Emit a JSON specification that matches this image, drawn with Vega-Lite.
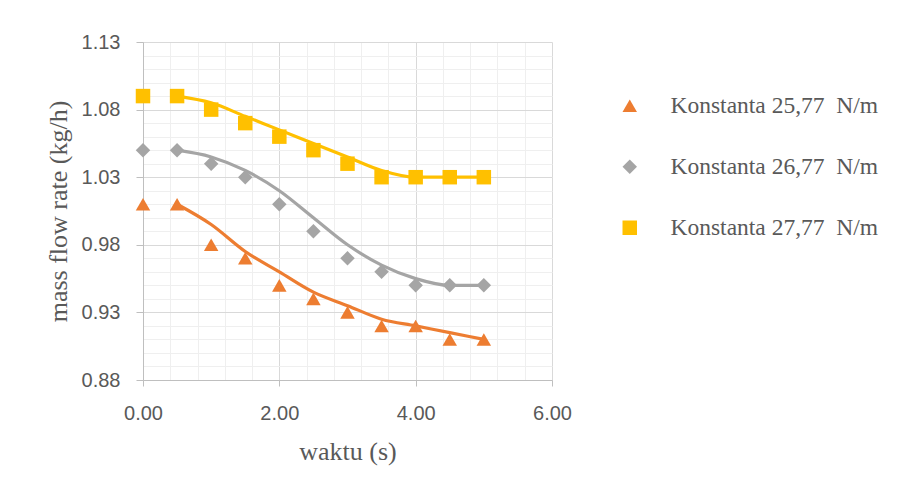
{
  "$schema": "https://vega.github.io/schema/vega-lite/v6.json",
  "width": 409,
  "height": 338,
  "autosize": "none",
  "padding": {"left": 143, "top": 42, "right": 369, "bottom": 112},
  "background": "white",
  "config": {
    "view": {"stroke": null},
    "axis": {
      "labelFont": "Liberation Sans",
      "labelFontSize": 20,
      "labelColor": "#595959",
      "labelFlush": false,
      "titleFont": "Liberation Serif",
      "titleFontSize": 26,
      "titleFontWeight": "normal",
      "titleColor": "#595959"
    },
    "legend": {
      "orient": "none",
      "legendX": 475,
      "legendY": 52,
      "labelFont": "Liberation Serif",
      "labelFontSize": 23.5,
      "labelColor": "#595959",
      "labelOffset": 29,
      "labelLimit": 400,
      "rowPadding": 36,
      "symbolSize": 210,
      "symbolStrokeWidth": 0
    }
  },
  "datasets": {
    "pts": [
      {"t": 0.0, "v": 1.01, "seri": "Konstanta 25,77\u00a0 N/m"},
      {"t": 0.5, "v": 1.01, "seri": "Konstanta 25,77\u00a0 N/m"},
      {"t": 1.0, "v": 0.98, "seri": "Konstanta 25,77\u00a0 N/m"},
      {"t": 1.5, "v": 0.97, "seri": "Konstanta 25,77\u00a0 N/m"},
      {"t": 2.0, "v": 0.95, "seri": "Konstanta 25,77\u00a0 N/m"},
      {"t": 2.5, "v": 0.94, "seri": "Konstanta 25,77\u00a0 N/m"},
      {"t": 3.0, "v": 0.93, "seri": "Konstanta 25,77\u00a0 N/m"},
      {"t": 3.5, "v": 0.92, "seri": "Konstanta 25,77\u00a0 N/m"},
      {"t": 4.0, "v": 0.92, "seri": "Konstanta 25,77\u00a0 N/m"},
      {"t": 4.5, "v": 0.91, "seri": "Konstanta 25,77\u00a0 N/m"},
      {"t": 5.0, "v": 0.91, "seri": "Konstanta 25,77\u00a0 N/m"},
      {"t": 0.0, "v": 1.05, "seri": "Konstanta 26,77\u00a0 N/m"},
      {"t": 0.5, "v": 1.05, "seri": "Konstanta 26,77\u00a0 N/m"},
      {"t": 1.0, "v": 1.04, "seri": "Konstanta 26,77\u00a0 N/m"},
      {"t": 1.5, "v": 1.03, "seri": "Konstanta 26,77\u00a0 N/m"},
      {"t": 2.0, "v": 1.01, "seri": "Konstanta 26,77\u00a0 N/m"},
      {"t": 2.5, "v": 0.99, "seri": "Konstanta 26,77\u00a0 N/m"},
      {"t": 3.0, "v": 0.97, "seri": "Konstanta 26,77\u00a0 N/m"},
      {"t": 3.5, "v": 0.96, "seri": "Konstanta 26,77\u00a0 N/m"},
      {"t": 4.0, "v": 0.95, "seri": "Konstanta 26,77\u00a0 N/m"},
      {"t": 4.5, "v": 0.95, "seri": "Konstanta 26,77\u00a0 N/m"},
      {"t": 5.0, "v": 0.95, "seri": "Konstanta 26,77\u00a0 N/m"},
      {"t": 0.0, "v": 1.09, "seri": "Konstanta 27,77\u00a0 N/m"},
      {"t": 0.5, "v": 1.09, "seri": "Konstanta 27,77\u00a0 N/m"},
      {"t": 1.0, "v": 1.08, "seri": "Konstanta 27,77\u00a0 N/m"},
      {"t": 1.5, "v": 1.07, "seri": "Konstanta 27,77\u00a0 N/m"},
      {"t": 2.0, "v": 1.06, "seri": "Konstanta 27,77\u00a0 N/m"},
      {"t": 2.5, "v": 1.05, "seri": "Konstanta 27,77\u00a0 N/m"},
      {"t": 3.0, "v": 1.04, "seri": "Konstanta 27,77\u00a0 N/m"},
      {"t": 3.5, "v": 1.03, "seri": "Konstanta 27,77\u00a0 N/m"},
      {"t": 4.0, "v": 1.03, "seri": "Konstanta 27,77\u00a0 N/m"},
      {"t": 4.5, "v": 1.03, "seri": "Konstanta 27,77\u00a0 N/m"},
      {"t": 5.0, "v": 1.03, "seri": "Konstanta 27,77\u00a0 N/m"}
    ],
    "fits": [
      {"t": 0.5, "v": 1.01, "seri": "25,77"},
      {"t": 1.0, "v": 0.995, "seri": "25,77"},
      {"t": 1.5, "v": 0.975, "seri": "25,77"},
      {"t": 2.0, "v": 0.96, "seri": "25,77"},
      {"t": 2.5, "v": 0.945, "seri": "25,77"},
      {"t": 3.0, "v": 0.935, "seri": "25,77"},
      {"t": 3.5, "v": 0.925, "seri": "25,77"},
      {"t": 4.0, "v": 0.92, "seri": "25,77"},
      {"t": 4.5, "v": 0.915, "seri": "25,77"},
      {"t": 5.0, "v": 0.91, "seri": "25,77"},
      {"t": 0.5, "v": 1.05, "seri": "26,77"},
      {"t": 1.0, "v": 1.045, "seri": "26,77"},
      {"t": 1.5, "v": 1.035, "seri": "26,77"},
      {"t": 2.0, "v": 1.02, "seri": "26,77"},
      {"t": 2.5, "v": 1.0, "seri": "26,77"},
      {"t": 3.0, "v": 0.98, "seri": "26,77"},
      {"t": 3.5, "v": 0.965, "seri": "26,77"},
      {"t": 4.0, "v": 0.955, "seri": "26,77"},
      {"t": 4.5, "v": 0.95, "seri": "26,77"},
      {"t": 5.0, "v": 0.95, "seri": "26,77"},
      {"t": 0.5, "v": 1.09, "seri": "27,77"},
      {"t": 1.0, "v": 1.085, "seri": "27,77"},
      {"t": 1.5, "v": 1.075, "seri": "27,77"},
      {"t": 2.0, "v": 1.065, "seri": "27,77"},
      {"t": 2.5, "v": 1.055, "seri": "27,77"},
      {"t": 3.0, "v": 1.045, "seri": "27,77"},
      {"t": 3.5, "v": 1.035, "seri": "27,77"},
      {"t": 4.0, "v": 1.03, "seri": "27,77"},
      {"t": 4.5, "v": 1.03, "seri": "27,77"},
      {"t": 5.0, "v": 1.03, "seri": "27,77"}
    ]
  },
  "resolve": {"axis": {"x": "independent", "y": "independent"}},
  "layer": [
    {
      "data": {"name": "fits"},
      "transform": [{"filter": "datum.seri === '25,77'"}],
      "mark": {"type": "line", "interpolate": "monotone", "strokeWidth": 3.2, "color": "#ED7D31"},
      "encoding": {
        "x": {
          "field": "t", "type": "quantitative",
          "scale": {"domain": [0, 6], "nice": false},
          "axis": {
            "orient": "bottom",
            "values": [0, 0.4, 0.8, 1.2, 1.6, 2, 2.4, 2.8, 3.2, 3.6, 4, 4.4, 4.8, 5.2, 5.6, 6],
            "grid": true, "gridColor": "#EFEFEF", "gridWidth": 1,
            "labels": false, "ticks": false, "domain": false, "title": null
          }
        },
        "y": {
          "field": "v", "type": "quantitative",
          "scale": {"domain": [0.88, 1.13], "nice": false, "zero": false},
          "axis": {
            "orient": "left",
            "values": [0.88, 0.89, 0.9, 0.91, 0.92, 0.93, 0.94, 0.95, 0.96, 0.97, 0.98, 0.99, 1.0, 1.01, 1.02, 1.03, 1.04, 1.05, 1.06, 1.07, 1.08, 1.09, 1.1, 1.11, 1.12, 1.13],
            "grid": true, "gridColor": "#EFEFEF", "gridWidth": 1,
            "labels": false, "ticks": false, "domain": false, "title": null
          }
        }
      }
    },
    {
      "data": {"name": "fits"},
      "transform": [{"filter": "datum.seri === '26,77'"}],
      "mark": {"type": "line", "interpolate": "monotone", "strokeWidth": 3.2, "color": "#A5A5A5"},
      "encoding": {
        "x": {"field": "t", "type": "quantitative", "axis": null},
        "y": {"field": "v", "type": "quantitative", "axis": null}
      }
    },
    {
      "data": {"name": "fits"},
      "transform": [{"filter": "datum.seri === '27,77'"}],
      "mark": {"type": "line", "interpolate": "monotone", "strokeWidth": 3.2, "color": "#FFC000"},
      "encoding": {
        "x": {"field": "t", "type": "quantitative", "axis": null},
        "y": {"field": "v", "type": "quantitative", "axis": null}
      }
    },
    {
      "data": {"name": "pts"},
      "mark": {"type": "point", "filled": true, "opacity": 1, "size": 210},
      "encoding": {
        "x": {
          "field": "t", "type": "quantitative",
          "axis": {
            "orient": "bottom",
            "values": [0, 2, 4, 6],
            "format": ".2f",
            "grid": true, "gridColor": "#D9D9D9",
            "domain": true, "domainColor": "#BFBFBF",
            "ticks": true, "tickColor": "#BFBFBF", "tickSize": 6,
            "labelPadding": 17,
            "title": "waktu (s)", "titlePadding": 15
          }
        },
        "y": {
          "field": "v", "type": "quantitative",
          "axis": {
            "orient": "left",
            "values": [0.88, 0.93, 0.98, 1.03, 1.08, 1.13],
            "format": ".2f",
            "grid": true, "gridColor": "#D9D9D9",
            "domain": true, "domainColor": "#BFBFBF",
            "ticks": true, "tickColor": "#BFBFBF", "tickSize": 7,
            "labelPadding": 16,
            "title": "mass flow rate (kg/h)", "titlePadding": 10
          }
        },
        "color": {
          "field": "seri", "type": "nominal",
          "scale": {
            "domain": ["Konstanta 25,77\u00a0 N/m", "Konstanta 26,77\u00a0 N/m", "Konstanta 27,77\u00a0 N/m"],
            "range": ["#ED7D31", "#A5A5A5", "#FFC000"]
          },
          "legend": {"title": null}
        },
        "shape": {
          "field": "seri", "type": "nominal",
          "scale": {
            "domain": ["Konstanta 25,77\u00a0 N/m", "Konstanta 26,77\u00a0 N/m", "Konstanta 27,77\u00a0 N/m"],
            "range": ["triangle-up", "diamond", "square"]
          },
          "legend": {"title": null}
        }
      }
    }
  ]
}
